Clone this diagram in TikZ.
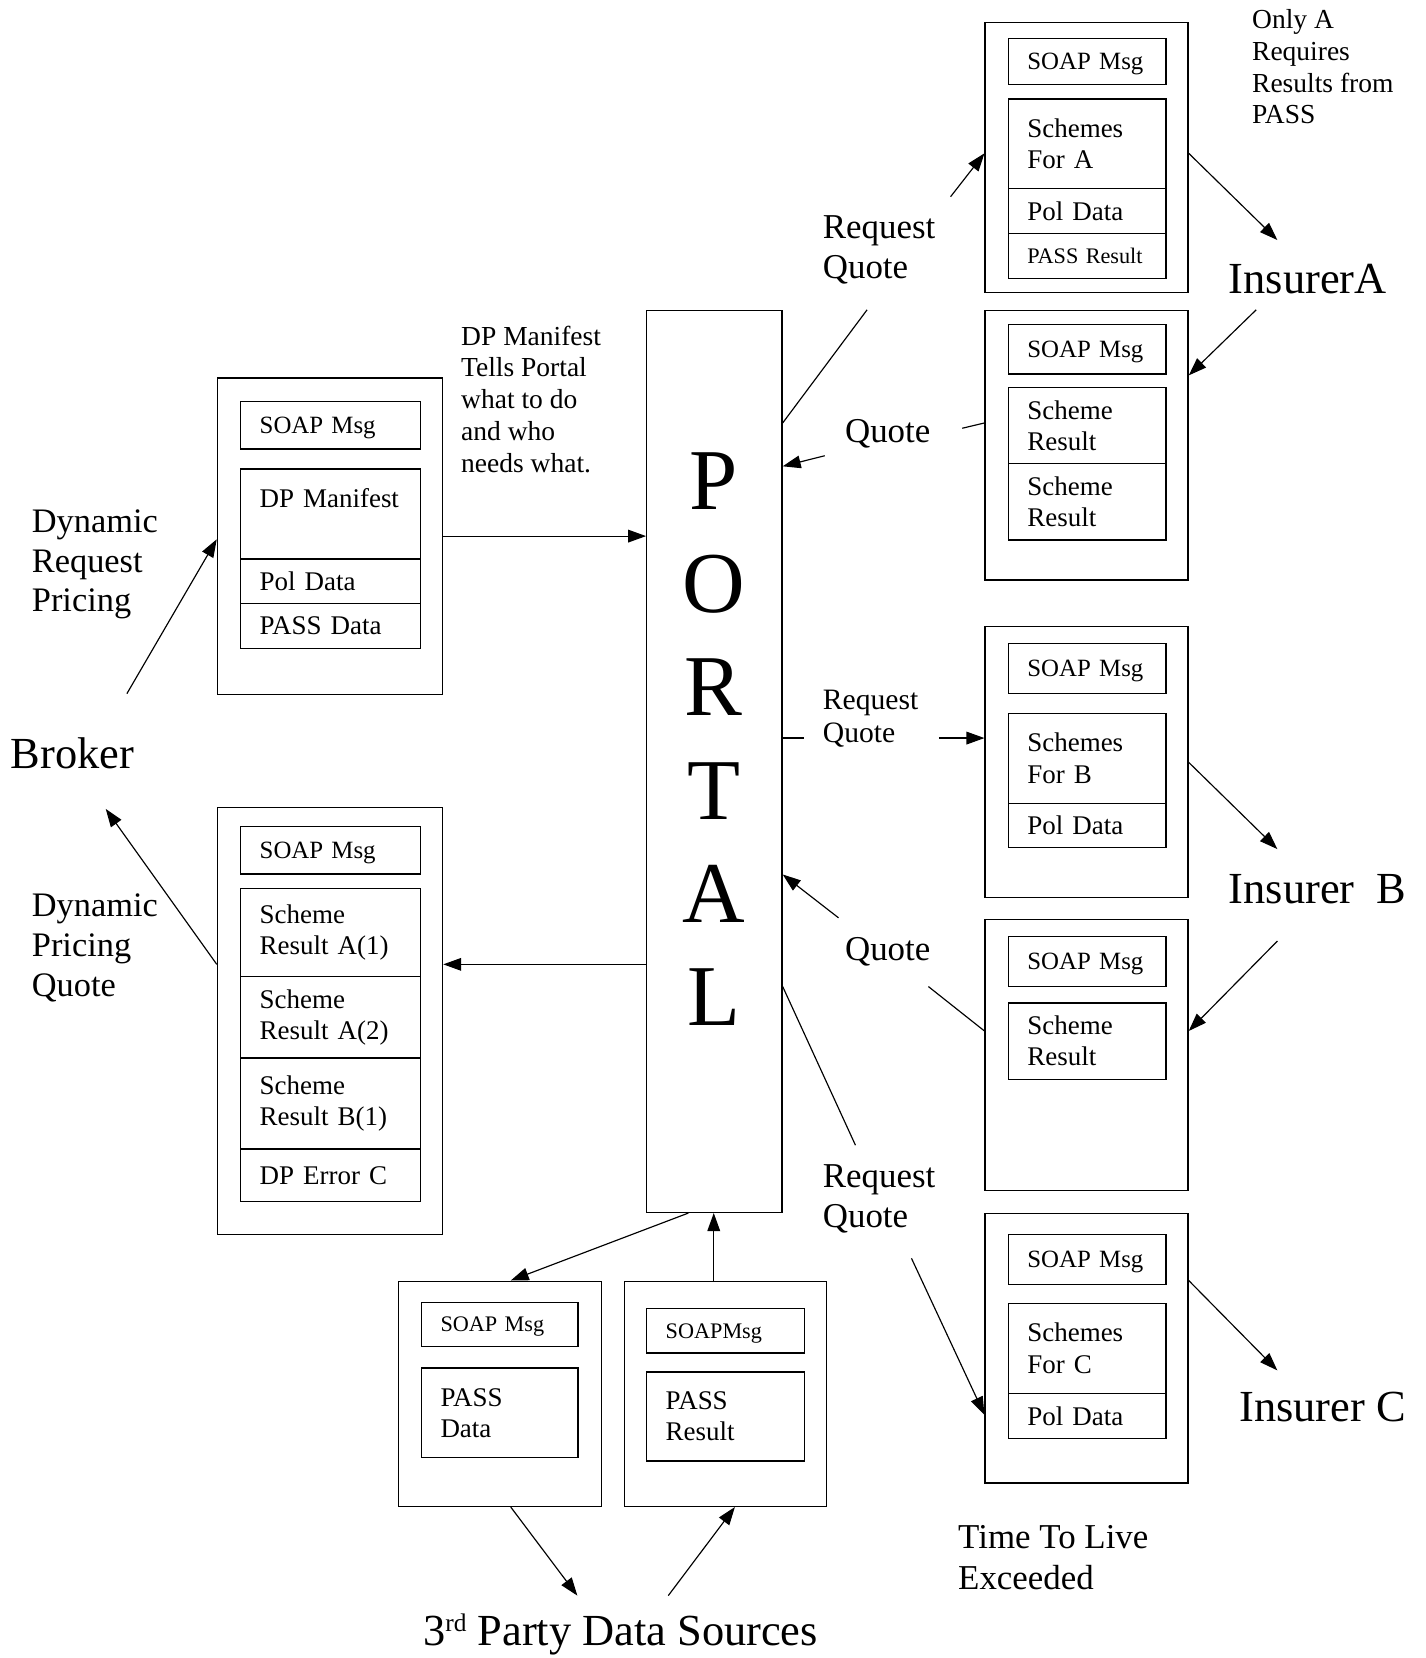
\documentclass[tikz,border=0pt]{standalone}
\usepackage{fontspec}
\setmainfont{Liberation Serif}
\usetikzlibrary{arrows.meta}

\begin{document}
\begin{tikzpicture}[x=1pt, y=-1pt,
    outer/.style={draw, line width=1.2pt, anchor=north west, inner sep=0pt},
    cell/.style={draw, line width=1.2pt, anchor=north west, inner xsep=18pt, inner ysep=1pt, align=left, font=\fontsize{25.5}{29.5}\selectfont},
    soap/.style={cell, text depth=0pt, font=\fontsize{23.5}{27}\selectfont},
    tiny/.style={cell, text depth=0pt, font=\fontsize{21}{25}\selectfont},
    arr/.style={line width=1.1pt, -{Triangle[length=17pt, width=12pt]}},
    link/.style={line width=1.1pt},
    note/.style={anchor=north west, inner sep=0pt, align=left},
    big/.style={anchor=west, inner sep=0pt, font=\fontsize{42}{48}\selectfont}]
    \useasboundingbox (0,0) rectangle (1348,1568);

    % Broker request message
    \node[outer, minimum width=213pt, minimum height=299pt] (brkreq) at (205,357) {};
    \node[soap, text width=134pt, minimum height=45pt] (brkreqsoap) at (227,379) {SOAP Msg};
    \node[cell, text width=134pt, minimum height=85pt] (brkreqman) at (227,443) {DP Manifest\\~};
    \node[cell, text width=134pt, minimum height=42pt] (brkreqpol) at (227,528) {Pol Data};
    \node[cell, text width=134pt, minimum height=43pt] (brkreqpass) at (227,570) {PASS Data};

    % Broker quote message
    \node[outer, minimum width=213pt, minimum height=404pt] (brkquo) at (205,763) {};
    \node[soap, text width=134pt, minimum height=45pt] (brkquosoap) at (227,781) {SOAP Msg};
    \node[cell, text width=134pt, minimum height=83pt] (brkquoa1) at (227,840) {Scheme\\Result A(1)};
    \node[cell, text width=134pt, minimum height=77pt] (brkquoa2) at (227,923) {Scheme\\Result A(2)};
    \node[cell, text width=134pt, minimum height=86pt] (brkquob1) at (227,1000) {Scheme\\Result B(1)};
    \node[cell, text width=134pt, minimum height=50pt] (brkquoerr) at (227,1086) {DP Error C};

    % Portal
    \node[outer, minimum width=128pt, minimum height=853pt] (portal) at (611,293) {};
    \node[font=\fontsize{82}{97.5}\selectfont, align=center] (portaltxt) at (675,699) {P\\O\\R\\T\\A\\L};

    % Insurer A request
    \node[outer, minimum width=192pt, minimum height=255pt] (reqA) at (931,21) {};
    \node[soap, text width=113pt, minimum height=43pt] (reqAsoap) at (953,36) {SOAP Msg};
    \node[cell, text width=113pt, minimum height=85pt] (reqAsch) at (953,93) {Schemes\\For A};
    \node[cell, text width=113pt, minimum height=42pt] (reqApol) at (953,178) {Pol Data};
    \node[tiny, text width=113pt, minimum height=43pt] (reqApass) at (953,220) {PASS Result};

    % Insurer A quote
    \node[outer, minimum width=192pt, minimum height=255pt] (quoA) at (931,293) {};
    \node[soap, text width=113pt, minimum height=47pt] (quoAsoap) at (953,306) {SOAP Msg};
    \node[cell, text width=113pt, minimum height=72pt] (quoAres1) at (953,366) {Scheme\\Result};
    \node[cell, text width=113pt, minimum height=72pt] (quoAres2) at (953,438) {Scheme\\Result};

    % Insurer B request
    \node[outer, minimum width=192pt, minimum height=256pt] (reqB) at (931,592) {};
    \node[soap, text width=113pt, minimum height=47pt] (reqBsoap) at (953,608) {SOAP Msg};
    \node[cell, text width=113pt, minimum height=85pt] (reqBsch) at (953,674) {Schemes\\For B};
    \node[cell, text width=113pt, minimum height=42pt] (reqBpol) at (953,759) {Pol Data};

    % Insurer B quote
    \node[outer, minimum width=192pt, minimum height=256pt] (quoB) at (931,869) {};
    \node[soap, text width=113pt, minimum height=47pt] (quoBsoap) at (953,885) {SOAP Msg};
    \node[cell, text width=113pt, minimum height=72pt] (quoBres) at (953,948) {Scheme\\Result};

    % Insurer C request
    \node[outer, minimum width=192pt, minimum height=255pt] (reqC) at (931,1147) {};
    \node[soap, text width=113pt, minimum height=47pt] (reqCsoap) at (953,1167) {SOAP Msg};
    \node[cell, text width=113pt, minimum height=85pt] (reqCsch) at (953,1232) {Schemes\\For C};
    \node[cell, text width=113pt, minimum height=43pt] (reqCpol) at (953,1317) {Pol Data};

    % 3rd party messages
    \node[outer, minimum width=192pt, minimum height=213pt] (passdata) at (376,1211) {};
    \node[tiny, text width=112pt, minimum height=42pt] (passdatasoap) at (398,1231) {SOAP Msg};
    \node[cell, text width=112pt, minimum height=85pt] (passdatatxt) at (398,1293) {PASS\\Data};
    \node[outer, minimum width=191pt, minimum height=213pt] (passres) at (590,1211) {};
    \node[tiny, text width=113pt, minimum height=42pt] (passressoap) at (611,1237) {SOAPMsg};
    \node[cell, text width=113pt, minimum height=84pt] (passrestxt) at (611,1297) {PASS\\Result};

    % Labels
    \node[note, font=\fontsize{26}{30}\selectfont] (onlya) at (1184,9) {Only A\\Requires\\Results from\\PASS};
    \node[note, font=\fontsize{33}{38}\selectfont] (rqA) at (778,204) {Request\\Quote};
    \node[big] (insA) at (1162,264) {InsurerA};
    \node[note, font=\fontsize{26}{30}\selectfont] (manifest) at (436,308) {DP Manifest\\Tells Portal\\what to do\\and who\\needs what.};
    \node[anchor=west, inner sep=0pt, font=\fontsize{33}{38}\selectfont] (quA) at (799,410) {Quote};
    \node[note, font=\fontsize{32.5}{37.5}\selectfont] (dynreq) at (30,482) {Dynamic\\Request\\Pricing};
    \node[big] (broker) at (10,712) {Broker};
    \node[note, font=\fontsize{28}{32}\selectfont] (rqB) at (778,652) {Request\\Quote};
    \node[big] (insB) at (1162,841) {Insurer\ \ B};
    \node[note, font=\fontsize{32.5}{38}\selectfont] (dynquo) at (30,845) {Dynamic\\Pricing\\Quote};
    \node[anchor=west, inner sep=0pt, font=\fontsize{33}{38}\selectfont] (quB) at (799,900) {Quote};
    \node[note, font=\fontsize{33}{38}\selectfont] (rqC) at (778,1101) {Request\\Quote};
    \node[big] (insC) at (1172,1331) {Insurer C};
    \node[note, font=\fontsize{33}{39}\selectfont] (ttl) at (906,1442) {Time To Live\\Exceeded};
    \node[big] (third) at (400,1546) {3{\fontsize{24}{24}\selectfont\raisebox{0.55em}{rd}} Party Data Sources};

    % Free ends of the connectors
    \coordinate (brkout) at (120,656);
    \coordinate (brkin) at (100,765);
    \coordinate (rqAa) at (820,293);
    \coordinate (rqAb) at (899,186);
    \coordinate (insAin) at (1208,227);
    \coordinate (insAout) at (1188,293);
    \coordinate (quAa) at (910,405);
    \coordinate (quAb) at (780,431);
    \coordinate (rqBa) at (760,698);
    \coordinate (rqBb) at (888,698);
    \coordinate (insBin) at (1208,803);
    \coordinate (insBout) at (1208,890);
    \coordinate (quBa) at (878,933);
    \coordinate (quBb) at (793,868);
    \coordinate (rqCa) at (809,1083);
    \coordinate (rqCb) at (862,1190);
    \coordinate (insCin) at (1208,1296);
    \coordinate (thirdin) at (546,1509);
    \coordinate (thirdout) at (632,1509);

    % Connectors
    \draw[arr] (brkout) -- (brkreq.west |- 0,510);
    \draw[arr] (brkreq.east |- 0,507) -- (portal.west |- 0,507);
    \draw[link] (portal.east |- 0,400) -- (rqAa);
    \draw[arr] (rqAb) -- (reqA.west |- 0,145);
    \draw[arr] (reqA.east |- 0,145) -- (insAin);
    \draw[arr] (insAout) -- (quoA.east |- 0,355);
    \draw[link] (quoA.west |- 0,400) -- (quAa);
    \draw[arr] (quAb) -- (portal.east |- 0,441);
    \draw[link] (portal.east |- 0,698) -- (rqBa);
    \draw[arr] (rqBb) -- (reqB.west |- 0,698);
    \draw[arr] (reqB.east |- 0,721) -- (insBin);
    \draw[arr] (insBout) -- (quoB.east |- 0,975);
    \draw[link] (quoB.west |- 0,975) -- (quBa);
    \draw[arr] (quBb) -- (portal.east |- 0,827);
    \draw[link] (portal.east |- 0,933) -- (rqCa);
    \draw[arr] (rqCb) -- (reqC.west |- 0,1338);
    \draw[arr] (reqC.east |- 0,1211) -- (insCin);
    \draw[arr] (portal.west |- 0,912) -- (brkquo.east |- 0,912);
    \draw[arr] (brkquo.west |- 0,912) -- (brkin);
    \draw[arr] (portal.south -| 651,0) -- (passdata.north -| 483,0);
    \draw[arr] (passres.north -| 675,0) -- (portal.south -| 675,0);
    \draw[arr] (passdata.south -| 483,0) -- (thirdin);
    \draw[arr] (thirdout) -- (passres.south -| 695,0);
\end{tikzpicture}
\end{document}
